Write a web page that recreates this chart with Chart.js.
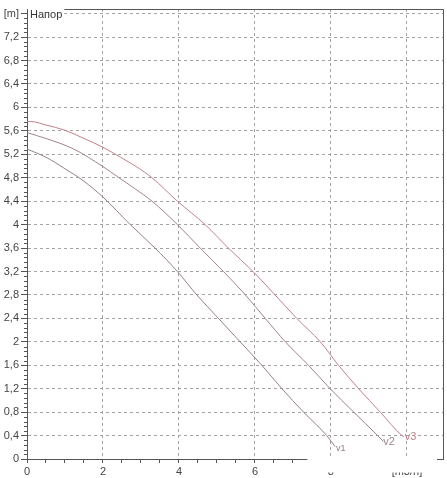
<!DOCTYPE html>
<html>
<head>
<meta charset="utf-8">
<script src="https://cdn.jsdelivr.net/npm/chart.js@4"></script>
<style>
html,body{margin:0;padding:0;background:#fff;}
canvas{display:block;}
</style>
</head>
<body>
<canvas id="c" width="447" height="478"></canvas>
<script>
// Flow [m3/h] and head [m]
const v1Flow = [0, 0.5, 0.96, 1.5, 2.0, 2.72, 3.37, 3.96, 4.47, 5.04, 5.61, 6.18, 6.71, 7.28, 7.89, 8.11];
const v1Head = [5.29, 5.15, 4.97, 4.74, 4.47, 4.0, 3.6, 3.2, 2.8, 2.4, 2.0, 1.6, 1.2, 0.8, 0.4, 0.21];
const v2Flow = [0, 0.5, 1.23, 2.0, 2.4, 2.85, 3.29, 3.96, 4.56, 5.17, 5.75, 6.27, 6.8, 7.41, 7.98, 8.6, 9.23, 9.38];
const v2Head = [5.57, 5.47, 5.29, 4.99, 4.81, 4.61, 4.4, 4.0, 3.6, 3.2, 2.8, 2.4, 2.0, 1.6, 1.2, 0.8, 0.4, 0.3];
const v3Flow = [0, 0.1, 0.5, 1.0, 1.5, 2.0, 2.46, 2.9, 3.29, 3.96, 4.69, 5.3, 5.95, 6.53, 7.1, 7.72, 8.2, 8.73, 9.3, 9.87, 9.92];
const v3Head = [5.76, 5.76, 5.70, 5.61, 5.47, 5.32, 5.15, 4.98, 4.8, 4.4, 4.0, 3.6, 3.2, 2.8, 2.4, 2.0, 1.6, 1.2, 0.8, 0.4, 0.38];
const seriesNames = ['v1', 'v2', 'v3'];
const seriesColors = ['rgb(150,128,136)', 'rgb(160,130,140)', 'rgb(192,128,138)'];
const yTitle = '[m]';
const xTitle = '[m3/h]';
const plotTitle = 'Напор';

const toPts = (xs, ys) => xs.map((x, i) => ({x: x, y: ys[i]}));
const fmt = v => String(Math.round(v * 10) / 10).replace('.', ',');

Chart.defaults.font.family = "'Liberation Sans', Arial, sans-serif";
Chart.defaults.font.size = 11;
Chart.defaults.color = '#444';

const gridCol = '#a2a2a2';

const decor = {
  id: 'decor',
  afterDraw(chart) {
    const ctx = chart.ctx;
    const a = chart.chartArea;
    const xs = chart.scales.x, ys = chart.scales.y;
    ctx.save();
    // y minor ticks
    ctx.strokeStyle = '#555';
    ctx.lineWidth = 1;
    ctx.beginPath();
    for (let k = 0; k <= 95; k++) {
      if (k % 5 === 0) continue;
      const py = Math.round(ys.getPixelForValue(k * 0.08)) + 0.5;
      if (py < a.top) continue;
      ctx.moveTo(a.left - 3, py);
      ctx.lineTo(a.left, py);
    }
    ctx.stroke();
    // top and right frame
    ctx.beginPath();
    ctx.moveTo(a.left, a.top + 0.5);
    ctx.lineTo(a.right + 0.5, a.top + 0.5);
    ctx.lineTo(a.right + 0.5, a.bottom + 1);
    ctx.moveTo(a.right - 5, a.bottom + 0.5);
    ctx.lineTo(a.right + 0.5, a.bottom + 0.5);
    ctx.stroke();
    // white box hiding part of the x axis (as in the reference)
    ctx.fillStyle = '#fff';
    const bx = xs.getPixelForValue(7.38);
    ctx.fillRect(bx, a.bottom - 0.5, a.right - 6 - bx, 14);
    // plot title
    ctx.font = "11px 'Liberation Sans', Arial, sans-serif";
    ctx.textBaseline = 'middle';
    ctx.textAlign = 'left';
    const ty = ys.getPixelForValue(7.6);
    const tw = ctx.measureText(plotTitle).width;
    ctx.fillRect(a.left + 1, ty - 6, tw + 4, 12);
    ctx.fillStyle = '#333';
    ctx.fillText(plotTitle, a.left + 3, ty + 1);
    // series end labels
    chart.data.datasets.forEach((ds, i) => {
      const meta = chart.getDatasetMeta(i);
      const last = meta.data[meta.data.length - 1];
      ctx.fillStyle = ds.borderColor;
      if (i === 0) {
        ctx.font = "9px 'Liberation Sans', Arial, sans-serif";
        ctx.fillText(seriesNames[i], last.x + 1, last.y + 2);
      } else if (i === 1) {
        ctx.font = "11px 'Liberation Sans', Arial, sans-serif";
        ctx.fillText(seriesNames[i], last.x, last.y + 1);
      } else {
        ctx.font = "11px 'Liberation Sans', Arial, sans-serif";
        ctx.fillText(seriesNames[i], last.x + 1, last.y);
      }
    });
    ctx.restore();
  }
};

const mk = (xs, ys, i) => ({
  label: seriesNames[i],
  data: toPts(xs, ys),
  showLine: true,
  borderColor: seriesColors[i],
  borderWidth: 1,
  pointRadius: 0,
  cubicInterpolationMode: 'monotone',
  fill: false
});

new Chart(document.getElementById('c'), {
  type: 'scatter',
  data: {
    datasets: [mk(v1Flow, v1Head, 0), mk(v2Flow, v2Head, 1), mk(v3Flow, v3Head, 2)]
  },
  options: {
    responsive: false,
    animation: false,
    layout: {padding: {left: 0, right: 4, top: 9, bottom: 0}},
    plugins: {legend: {display: false}, tooltip: {enabled: false}},
    scales: {
      x: {
        type: 'linear',
        min: 0, max: 10.95,
        afterFit: s => { s.height = 19; },
        ticks: {
          stepSize: 0.5, includeBounds: false, autoSkip: false, maxRotation: 0,
          padding: 2, color: '#444',
          callback: v => {
            const r = Math.round(v * 10) / 10;
            if (r === 10) return xTitle;
            if (r % 2 === 0) return fmt(r);
            return '';
          }
        },
        grid: {
          color: c => {
            const r = Math.round(c.tick.value * 10) / 10;
            return (r > 0 && r % 2 === 0) ? gridCol : 'rgba(0,0,0,0)';
          },
          tickColor: '#555', tickLength: 4, lineWidth: 1
        },
        border: {color: '#555', width: 1, dash: [3, 3]}
      },
      y: {
        type: 'linear',
        min: 0, max: 7.68,
        afterFit: s => { s.width = 27; },
        ticks: {
          stepSize: 0.4, includeBounds: false, autoSkip: false,
          padding: 2, color: '#444',
          callback: v => {
            const r = Math.round(v * 10) / 10;
            if (r === 7.6) return yTitle;
            return fmt(r);
          }
        },
        grid: {
          color: c => (c.tick.value > 0.01 ? gridCol : 'rgba(0,0,0,0)'),
          tickColor: '#555', tickLength: 6, lineWidth: 1
        },
        border: {color: '#555', width: 1, dash: [3, 3]}
      }
    }
  },
  plugins: [decor]
});
</script>
</body>
</html>
